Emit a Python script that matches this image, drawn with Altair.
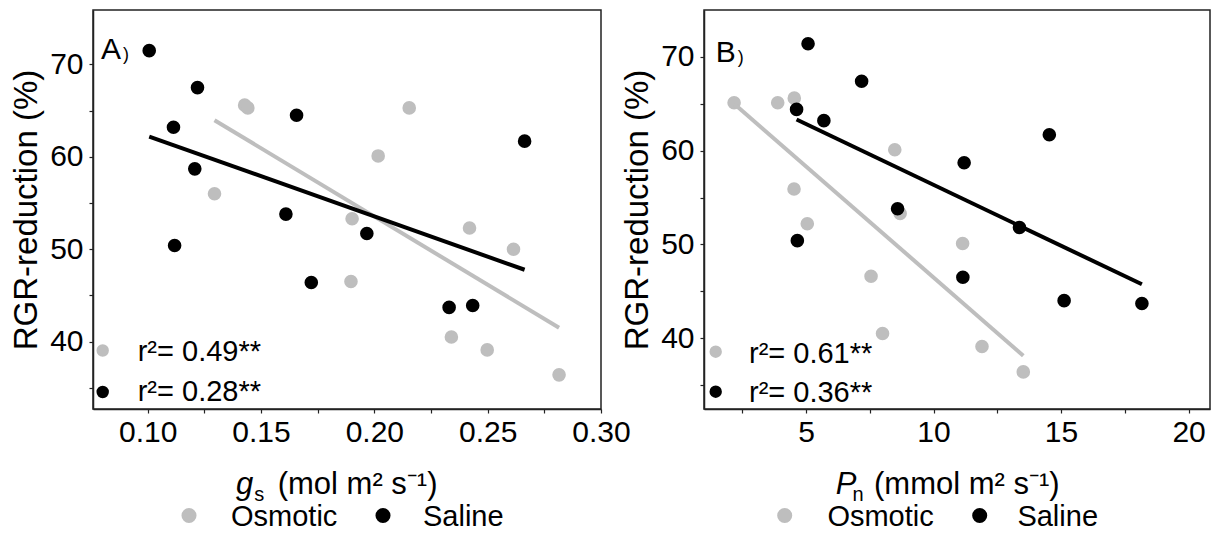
import altair as alt
import pandas as pd

FONT = "Liberation Sans"
groups = ["Osmotic", "Saline"]
group_colors = ["#BEBEBE", "#000000"]

# Panel A: stomatal conductance gs vs RGR reduction
gs_osmotic = [0.1428, 0.1442, 0.2154, 0.2017, 0.1295, 0.1902, 0.2420, 0.2614, 0.1897, 0.2340, 0.2498, 0.2815]
rgr_osmotic_a = [65.6, 65.3, 65.3, 60.1, 56.0, 53.3, 52.3, 50.0, 46.5, 40.5, 39.1, 36.4]
gs_saline = [0.1007, 0.1220, 0.1114, 0.1657, 0.2663, 0.1208, 0.1610, 0.1967, 0.1119, 0.1722, 0.2330, 0.2434]
rgr_saline_a = [71.5, 67.5, 63.2, 64.5, 61.7, 58.7, 53.8, 51.7, 50.4, 46.4, 43.7, 43.9]

# Panel B: net photosynthesis Pn vs RGR reduction
pn_osmotic = [2.18, 3.89, 4.54, 8.48, 4.53, 5.05, 8.69, 11.14, 7.55, 8.00, 11.90, 13.52]
rgr_osmotic_b = [65.1, 65.1, 65.6, 60.1, 55.9, 52.2, 53.3, 50.1, 46.6, 40.5, 39.1, 36.4]
pn_saline = [5.08, 7.18, 4.63, 5.70, 14.54, 11.20, 8.59, 13.37, 4.66, 11.15, 15.12, 18.17]
rgr_saline_b = [71.4, 67.4, 64.4, 63.2, 61.7, 58.7, 53.8, 51.8, 50.4, 46.5, 44.0, 43.7]

r2_a = ["r\u00b2= 0.49**", "r\u00b2= 0.28**"]
r2_b = ["r\u00b2= 0.61**", "r\u00b2= 0.36**"]

y_ticks = [35, 40, 45, 50, 55, 60, 65, 70]
x_ticks_a = [0.10, 0.125, 0.15, 0.175, 0.20, 0.225, 0.25, 0.275, 0.30]
x_ticks_b = [2.5, 5, 7.5, 10, 12.5, 15, 17.5, 20]


def make_frame(xo, yo, xs, ys, xname):
    return pd.DataFrame({
        xname: xo + xs,
        "rgr": yo + ys,
        "group": [groups[0]] * len(xo) + [groups[1]] * len(xs),
    })


def one(text):
    return pd.DataFrame({"t": [text]})


def txt(text, x, y, size, style="normal"):
    return alt.Chart(one(text)).mark_text(
        align="left", baseline="alphabetic", fontSize=size, font=FONT,
        fontStyle=style, color="black").encode(
        text="t:N", x=alt.value(x), y=alt.value(y))


def dot(text, x, y, size, color):
    return alt.Chart(one(text)).mark_circle(size=size, opacity=1, color=color).encode(
        x=alt.value(x), y=alt.value(y))


def panel(df, xfield, xdomain, xticks, xlabel_expr, ydomain, width, height,
          letter, r2, title_main, title_sub, title_rest, tpos, ann, leg):
    xs = alt.Scale(domain=xdomain, nice=False, zero=False)
    ys = alt.Scale(domain=ydomain, nice=False, zero=False)
    x_enc = alt.X(f"{xfield}:Q", scale=xs,
                  axis=alt.Axis(values=xticks, labelExpr=xlabel_expr, title=None,
                                labelFontSize=30, tickSize=4, labelPadding=4,
                                labelFlush=False, labelOverlap=False))
    y_enc = alt.Y("rgr:Q", scale=ys,
                  axis=alt.Axis(values=y_ticks,
                                labelExpr="datum.value % 10 == 0 ? datum.label : ''",
                                title="RGR-reduction (%)", titleFontSize=33,
                                titleFontWeight="normal", titlePadding=6,
                                labelFontSize=30, tickSize=4, labelPadding=6,
                                labelFlush=False, labelOverlap=False))
    cscale = alt.Scale(domain=groups, range=group_colors)
    pts = alt.Chart(df).mark_circle(size=185, opacity=1).encode(
        x=x_enc, y=y_enc,
        color=alt.Color("group:N", scale=cscale, legend=None),
    )
    lines = alt.Chart(df).transform_regression(
        xfield, "rgr", groupby=["group"]
    ).mark_line(strokeWidth=4).encode(
        x=alt.X(f"{xfield}:Q", scale=xs),
        y=alt.Y("rgr:Q", scale=ys),
        color=alt.Color("group:N", scale=cscale, legend=None),
    )
    layers = [pts, lines]
    # in-plot r2 key
    for i, lab in enumerate(r2):
        layers.append(dot(lab, ann["dot_x"], ann["dot_y"][i], 154, group_colors[i]))
        layers.append(txt(lab, ann["text_x"], ann["text_y"][i], 29))
    # panel letter
    layers.append(txt(letter, ann["letter_x"], ann["letter_y"], 30))
    layers.append(txt(")", ann["letter_x"] + 22, ann["letter_y"] + 1, 18))
    # x-axis title with italic symbol and subscript
    layers.append(txt(title_main, tpos[0], 483.5, 31, "italic"))
    layers.append(txt(title_sub, tpos[1], 490.5, 20))
    layers.append(txt(title_rest, tpos[2], 483.5, 31))
    # bottom group key
    for i, g in enumerate(groups):
        layers.append(dot(g, leg["dot_x"][i], 505.5, 227, group_colors[i]))
        layers.append(txt(g, leg["text_x"][i], 516, 29))
    return alt.layer(*layers).properties(width=width, height=height)


df_a = make_frame(gs_osmotic, rgr_osmotic_a, gs_saline, rgr_saline_a, "gs")
df_b = make_frame(pn_osmotic, rgr_osmotic_b, pn_saline, rgr_saline_b, "pn")

chart_a = panel(
    df_a, "gs", [0.0759, 0.30], x_ticks_a,
    "abs(datum.value*20 - round(datum.value*20)) < 0.001 ? format(datum.value, '.2f') : ''",
    [32.7, 75.9], 508, 399, "A", r2_a, "g", "s", "(mol m\u00b2 s\u207b\u00b9)",
    [143, 161.3, 184.7],
    {"dot_x": 9.7, "dot_y": [340.5, 382], "text_x": 44.7, "text_y": [350.5, 390.5],
     "letter_x": 8, "letter_y": 49},
    {"dot_x": [96, 290], "text_x": [138, 330]},
)
chart_b = panel(
    df_b, "pn", [1.0, 20.84], x_ticks_b,
    "datum.value % 5 == 0 ? datum.label : ''",
    [32.44, 75.0], 506, 399, "B", r2_b, "P", "n", "(mmol m\u00b2 s\u207b\u00b9)",
    [131.7, 148.4, 170],
    {"dot_x": 11.7, "dot_y": [341.7, 381.7], "text_x": 45, "text_y": [353, 391.7],
     "letter_x": 11.7, "letter_y": 51.7},
    {"dot_x": [80.7, 275.7], "text_x": [123.4, 313.4]},
)

chart = alt.hconcat(chart_a, chart_b, spacing=103, bounds="flush").properties(
    padding={"left": 9, "top": 9, "right": 0, "bottom": 0},
    background="white",
).configure(font=FONT).configure_view(
    stroke="#222222", strokeWidth=1.5
).configure_axis(
    grid=False, domainColor="#222222", domainWidth=1.5, tickColor="#222222",
    tickWidth=1.2, labelColor="black", titleColor="black",
    labelFont=FONT, titleFont=FONT,
)

chart.save("out.html", embed_options={"renderer": "svg", "actions": False})
